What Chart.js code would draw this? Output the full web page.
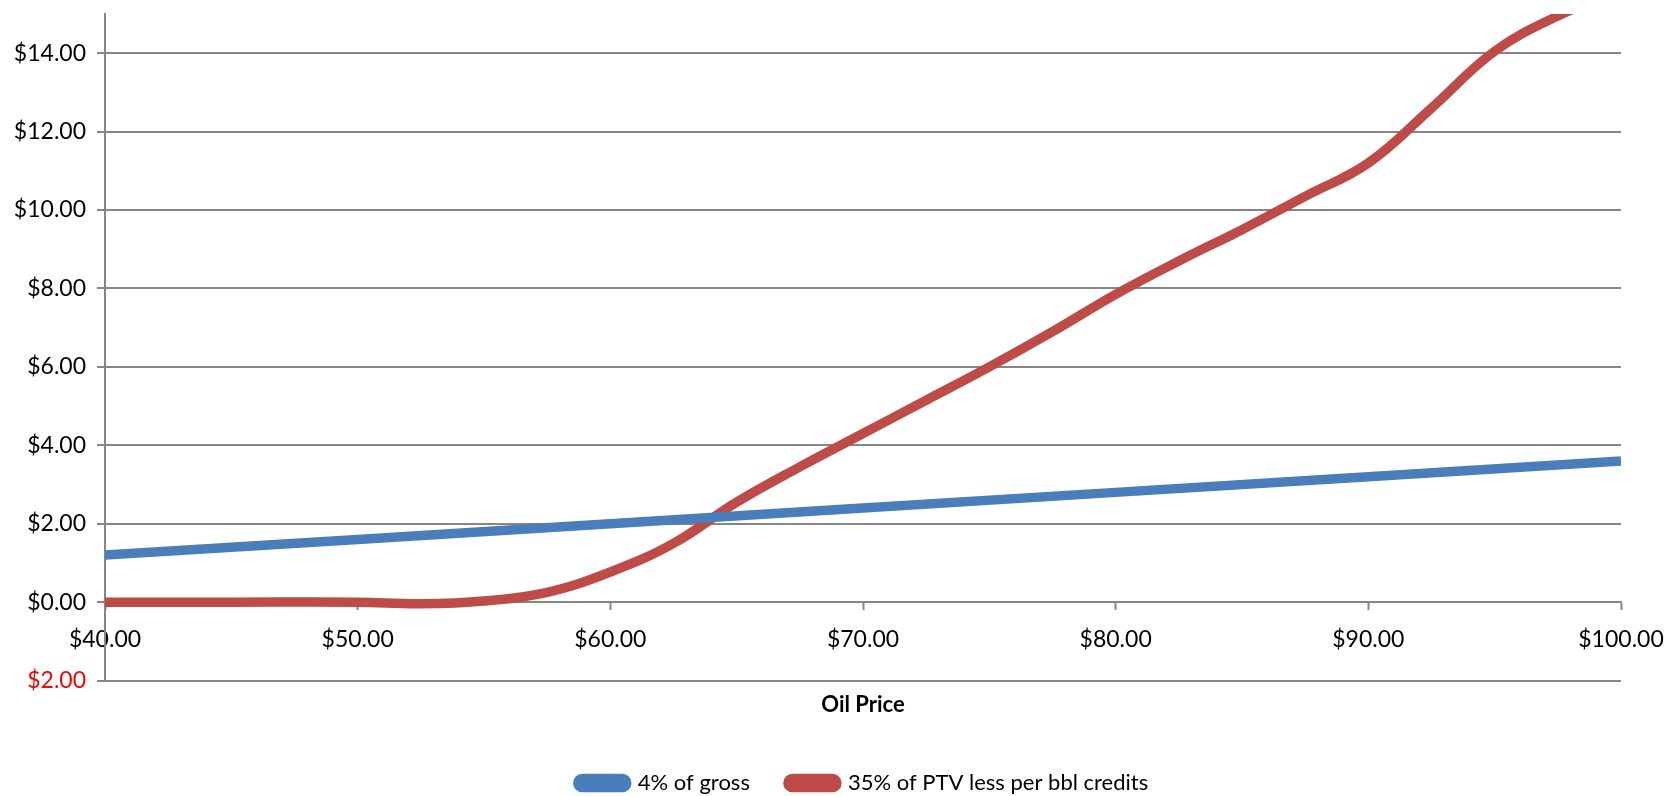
<!DOCTYPE html>
<html>
<head>
<meta charset="utf-8">
<title>Oil Price</title>
<script src="https://cdn.jsdelivr.net/npm/chart.js@4.4.1/dist/chart.umd.min.js"></script>
<style>
  html, body { margin: 0; padding: 0; background: #fff; }
  #wrap { width: 1665px; height: 796px; }
</style>
</head>
<body>
<div id="wrap"><canvas id="chart" width="1665" height="796"></canvas></div>
<script>
// values
const grossPrices = [40, 50, 60, 70, 80, 90, 100];
const grossValues = [1.2, 1.6, 2.0, 2.4, 2.8, 3.2, 3.6];

const ptvPrices = [40, 45, 50, 52.5, 55, 57.5, 60, 62.5, 65, 67.5, 70, 72.5, 75, 77.5, 80, 82.5, 85, 87.5, 90, 92.5, 95, 97.5, 100];
const ptvValues = [0, 0, 0, -0.04, 0.03, 0.25, 0.77, 1.5, 2.55, 3.45, 4.3, 5.15, 6.0, 6.9, 7.85, 8.7, 9.5, 10.35, 11.2, 12.6, 14.05, 14.95, 15.6];

const xTicks = [40, 50, 60, 70, 80, 90, 100];
const yTicks = [-2, 0, 2, 4, 6, 8, 10, 12, 14];

const seriesNames = ["4% of gross", "35% of PTV less per bbl credits"];

const GRID = "#868686";
const money = v => "$" + Math.abs(v).toFixed(2);
const pts = (xs, ys) => xs.map((x, i) => ({ x: x, y: ys[i] }));

Chart.defaults.font.family = "Lato, 'Open Sans', sans-serif";
Chart.defaults.color = "#000";

new Chart(document.getElementById("chart"), {
  type: "line",
  data: {
    datasets: [
      {
        label: seriesNames[0],
        data: pts(grossPrices, grossValues),
        borderColor: "#4A7EBB",
        backgroundColor: "#4A7EBB",
        borderWidth: 9.5,
        pointRadius: 0,
        tension: 0,
        clip: 0
      },
      {
        label: seriesNames[1],
        data: pts(ptvPrices, ptvValues),
        borderColor: "#BE4B48",
        backgroundColor: "#BE4B48",
        borderWidth: 9.5,
        pointRadius: 0,
        tension: 0.4,
        clip: 0
      }
    ]
  },
  options: {
    responsive: false,
    animation: false,
    devicePixelRatio: 1,
    layout: { padding: { top: 14, right: 44, left: 0, bottom: -8 } },
    scales: {
      x: {
        type: "linear",
        position: { y: 0 },
        min: 40,
        max: 100,
        afterBuildTicks: s => { s.ticks = xTicks.map(v => ({ value: v })); },
        afterFit: s => { s.paddingLeft = 0; s.paddingRight = 0; },
        grid: { drawOnChartArea: false, drawTicks: true, tickLength: 7, tickColor: GRID, tickWidth: 2 },
        border: { display: true, color: GRID, width: 2 },
        ticks: { font: { size: 23 }, padding: 17, maxRotation: 0, callback: v => money(v) }
      },
      y: {
        min: -2,
        max: 15,
        afterBuildTicks: s => { s.ticks = yTicks.map(v => ({ value: v })); },
        afterFit: s => { s.width = 105; s.paddingTop = 0; s.paddingBottom = 0; },
        grid: { color: GRID, lineWidth: 2, tickLength: 8, tickColor: GRID, tickWidth: 2 },
        border: { display: true, color: GRID, width: 2 },
        ticks: {
          font: { size: 23 },
          padding: 11,
          color: c => (c.tick && c.tick.value < 0 ? "#FF0000" : "#000"),
          callback: v => money(v)
        }
      }
    },
    plugins: {
      title: {
        display: true,
        text: "Oil Price",
        position: "bottom",
        fullSize: false,
        weight: 500,
        font: { size: 22, weight: "bold" },
        padding: { top: 11, bottom: 16 }
      },
      legend: {
        position: "bottom",
        fullSize: false,
        weight: 1000,
        labels: {
          boxWidth: 49,
          boxHeight: 9,
          useBorderRadius: true,
          borderRadius: 4.5,
          padding: 38,
          font: { size: 22 }
        }
      },
      tooltip: { enabled: false }
    }
  }
});
</script>
</body>
</html>
